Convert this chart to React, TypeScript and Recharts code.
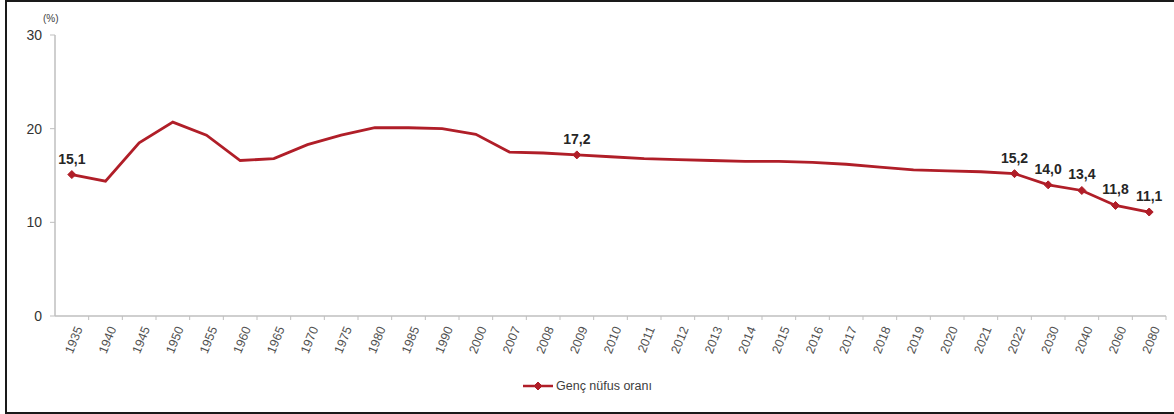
import { LineChart, Line, XAxis, YAxis, LabelList } from "recharts";

const years = [
  "1935", "1940", "1945", "1950", "1955", "1960", "1965", "1970", "1975",
  "1980", "1985", "1990", "2000", "2007", "2008", "2009", "2010", "2011",
  "2012", "2013", "2014", "2015", "2016", "2017", "2018", "2019", "2020",
  "2021", "2022", "2030", "2040", "2060", "2080",
];

const youthShare = [
  15.1, 14.4, 18.5, 20.7, 19.3, 16.6, 16.8, 18.3, 19.3,
  20.1, 20.1, 20.0, 19.4, 17.5, 17.4, 17.2, 17.0, 16.8,
  16.7, 16.6, 16.5, 16.5, 16.4, 16.2, 15.9, 15.6, 15.5,
  15.4, 15.2, 14.0, 13.4, 11.8, 11.1,
];

const labeledYears = ["1935", "2009", "2022", "2030", "2040", "2060", "2080"];

const yTicks = [0, 10, 20, 30];

const W = 1174;
const H = 414;
const Y_W = 55;
const M = { top: 35, right: 8, bottom: 38, left: 0 };
const BAND = (W - M.left - M.right - Y_W) / years.length;

const RED = "#B01E28";
const AXIS = "#BFBFBF";
const FONT = '"Liberation Sans", Arial, sans-serif';

const data = years.map((year, i) => ({
  year,
  value: youthShare[i],
  label: labeledYears.includes(year) ? youthShare[i].toFixed(1).replace(".", ",") : null,
}));

function Diamond({ cx, cy, size = 4 }: { cx: number; cy: number; size?: number }) {
  return (
    <path
      d={`M${cx},${cy - size} L${cx + size},${cy} L${cx},${cy + size} L${cx - size},${cy} Z`}
      fill={RED}
      stroke={RED}
    />
  );
}

function Dot(props: any) {
  const { cx, cy, payload } = props;
  if (!labeledYears.includes(payload.year)) return <g />;
  return <Diamond cx={cx} cy={cy} />;
}

function XTick(props: any) {
  const { x, y, payload } = props;
  const edge = x + BAND / 2;
  return (
    <g>
      <line x1={edge} x2={edge} y1={y} y2={y + 4} stroke={AXIS} />
      <text
        transform={`translate(${x + 7},${y + 11}) rotate(-68)`}
        textAnchor="end"
        dy="0.35em"
        fontSize={12.5}
        fontFamily={FONT}
        fill="#505050"
      >
        {payload.value}
      </text>
    </g>
  );
}

export default function App() {
  return (
    <div
      style={{
        position: "absolute",
        left: 0,
        top: 0,
        width: W,
        height: H,
        background: "#fff",
        fontFamily: FONT,
      }}
    >
      <div
        style={{
          position: "absolute",
          left: 5,
          top: 0,
          width: W - 5,
          height: H - 4,
          borderLeft: "2px solid #1a1a1a",
          borderTop: "2px solid #1a1a1a",
          borderBottom: "2px solid #1a1a1a",
        }}
      />
      <div
        style={{
          position: "absolute",
          left: 43,
          top: 13,
          fontSize: 10,
          color: "#404040",
        }}
      >
        (%)
      </div>
      <LineChart width={W} height={H} data={data} margin={M} style={{ position: "absolute", left: 0, top: 0 }}>
        <XAxis
          dataKey="year"
          interval={0}
          height={60}
          padding={{ left: BAND / 2, right: BAND / 2 }}
          tickLine={false}
          tickSize={0}
          tickMargin={0}
          axisLine={{ stroke: AXIS, strokeWidth: 1.5 }}
          tick={<XTick />}
        />
        <YAxis
          width={Y_W}
          domain={[0, 30]}
          ticks={yTicks}
          tickSize={5}
          tickMargin={8}
          axisLine={{ stroke: AXIS, strokeWidth: 1.5 }}
          tickLine={{ stroke: AXIS }}
          tick={{ fontSize: 14, fill: "#333333", fontFamily: FONT }}
        />
        <Line
          type="linear"
          dataKey="value"
          stroke={RED}
          strokeWidth={2.8}
          dot={<Dot />}
          activeDot={false}
          isAnimationActive={false}
        >
          <LabelList
            dataKey="label"
            position="top"
            offset={11}
            fontSize={14}
            fontWeight="bold"
            fontFamily={FONT}
            fill="#262626"
          />
        </Line>
      </LineChart>
      <div
        style={{
          position: "absolute",
          left: 522,
          top: 379,
          display: "flex",
          alignItems: "center",
          fontSize: 12.5,
          color: "#404040",
        }}
      >
        <svg width={32} height={14}>
          <line x1={1} x2={31} y1={7} y2={7} stroke={RED} strokeWidth={2.5} />
          <Diamond cx={16} cy={7} />
        </svg>
        <span style={{ marginLeft: 2 }}>Genç nüfus oranı</span>
      </div>
    </div>
  );
}
